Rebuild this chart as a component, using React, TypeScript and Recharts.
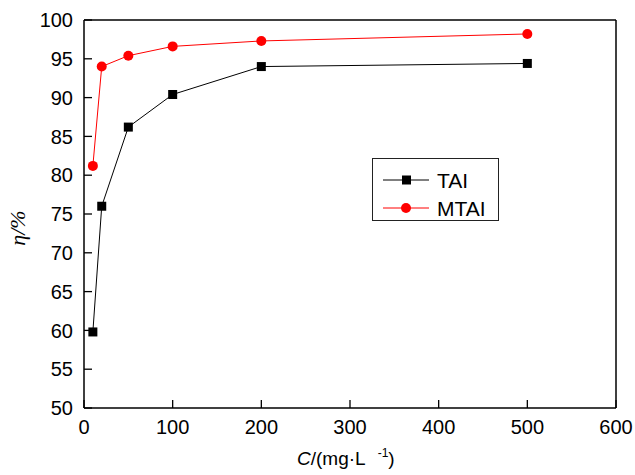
import { LineChart, Line, XAxis, YAxis, ReferenceLine, Label } from 'recharts';

// Inhibition efficiency vs. concentration for TAI and MTAI
const concentrations = [10, 20, 50, 100, 200, 500];
const taiEta = [59.8, 76.0, 86.2, 90.4, 94.0, 94.4];
const mtaiEta = [81.2, 94.0, 95.4, 96.6, 97.3, 98.2];
const xTicks = [0, 100, 200, 300, 400, 500, 600];
const yTicks = [50, 55, 60, 65, 70, 75, 80, 85, 90, 95, 100];

const data = concentrations.map((c, i) => ({ c, tai: taiEta[i], mtai: mtaiEta[i] }));

const FONT = '"Liberation Sans", Arial, sans-serif';
const tickStyle = { fill: '#000', fontSize: 20, fontFamily: FONT };

const SquareDot = (props: any) => {
  const { cx, cy, index } = props;
  if (cx == null || cy == null) return null;
  return <rect key={'sq' + index} x={cx - 4.5} y={cy - 4.5} width={9} height={9} fill="#000" />;
};

// legend drawn as an overlay so it doesn't steal plot height
const LegendBox = () => (
  <div style={{ position: 'absolute', left: 372, top: 158, width: 125, height: 61, border: '1.5px solid #222', background: '#fff' }}>
    <svg width={125} height={61} style={{ position: 'absolute', left: 0, top: 0 }}>
      <line x1={10} x2={56} y1={21} y2={21} stroke="#000" strokeWidth={1} />
      <rect x={29} y={16.5} width={9} height={9} fill="#000" />
      <text x={64} y={29} fill="#000" fontSize={21} fontFamily={FONT}>TAI</text>
      <line x1={10} x2={56} y1={49} y2={49} stroke="#ff0000" strokeWidth={1} />
      <circle cx={33} cy={49} r={5} fill="#ff0000" />
      <text x={64} y={57} fill="#000" fontSize={21} fontFamily={FONT}>MTAI</text>
    </svg>
  </div>
);

export default function App() {
  return (
    <div style={{ position: 'absolute', left: 0, top: 0, width: 635, height: 475, background: '#fff' }}>
      <LineChart width={635} height={475} data={data} margin={{ top: 20, right: 19, left: 0, bottom: 0 }}>
        <XAxis
          dataKey="c"
          type="number"
          domain={[0, 600]}
          ticks={xTicks}
          tick={tickStyle}
          tickSize={-8}
          tickMargin={20}
          height={67}
          axisLine={{ stroke: '#000', strokeWidth: 1.5 }}
          tickLine={{ stroke: '#000', strokeWidth: 1.3 }}
        >
          <Label
            content={() => (
              <text x={297} y={465} fill="#000" fontSize={19} fontFamily={FONT}>
                <tspan fontStyle="italic">C</tspan>
                <tspan>/(mg·L</tspan>
                <tspan dx={12} dy={-8} fontSize={12}>-1</tspan>
                <tspan dy={8}>)</tspan>
              </text>
            )}
          />
        </XAxis>
        <YAxis
          type="number"
          domain={[50, 100]}
          ticks={yTicks}
          tick={tickStyle}
          tickSize={-8}
          tickMargin={19}
          width={84}
          axisLine={{ stroke: '#000', strokeWidth: 1.5 }}
          tickLine={{ stroke: '#000', strokeWidth: 1.3 }}
        >
          <Label
            content={() => (
              <text
                x={25}
                y={228}
                transform="rotate(-90 25 228)"
                textAnchor="middle"
                fill="#000"
                fontSize={22}
                fontStyle="italic"
                fontFamily={'"Liberation Serif", "Times New Roman", serif'}
              >
                η/%
              </text>
            )}
          />
        </YAxis>
        <ReferenceLine y={100} stroke="#000" strokeWidth={1.5} />
        <ReferenceLine x={600} stroke="#000" strokeWidth={1.5} />
        <Line dataKey="tai" name="TAI" stroke="#000" strokeWidth={1} dot={SquareDot} isAnimationActive={false} />
        <Line dataKey="mtai" name="MTAI" stroke="#ff0000" strokeWidth={1} dot={{ r: 5, fill: '#ff0000', stroke: '#ff0000', strokeWidth: 0 }} isAnimationActive={false} />
      </LineChart>
      <LegendBox />
    </div>
  );
}
